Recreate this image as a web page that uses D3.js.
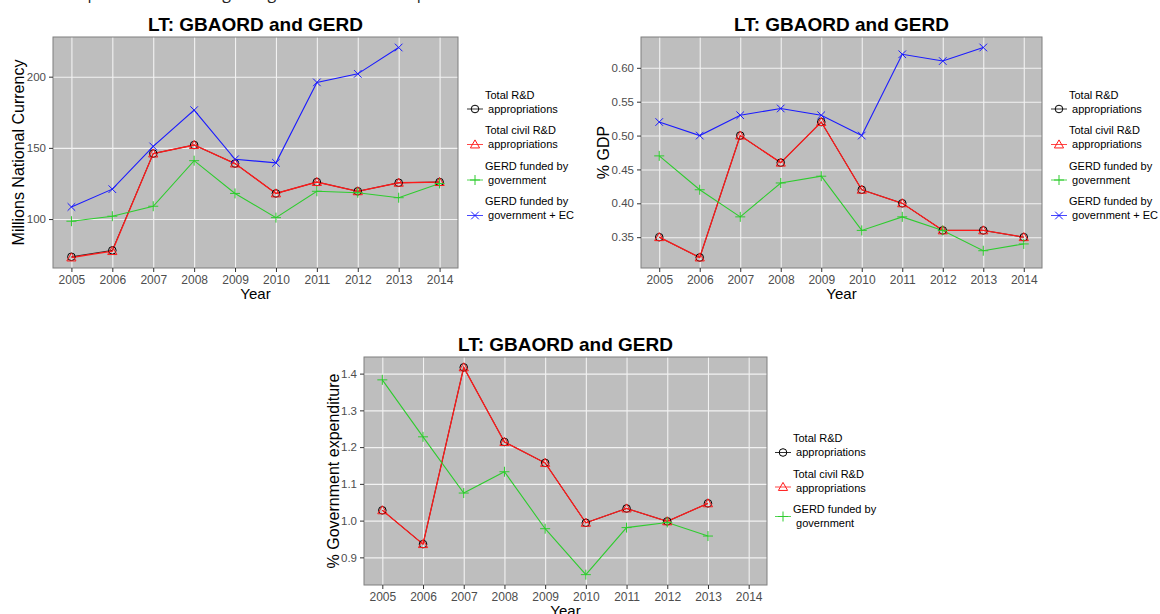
<!DOCTYPE html>
<html>
<head>
<meta charset="utf-8">
<script src="https://cdn.jsdelivr.net/npm/d3@7"></script>
<style>
body { margin: 0; background: #fff; }
svg text { font-family: "Liberation Sans", Arial, sans-serif; }
</style>
</head>
<body>
<div id="chart"></div>
<script>
// data
var years = [2005, 2006, 2007, 2008, 2009, 2010, 2011, 2012, 2013, 2014];
var seriesNames = [
  ["Total R&D", " appropriations"],
  ["Total civil R&D", " appropriations"],
  ["GERD funded by", " government"],
  ["GERD funded by", " government + EC"]
];

// millions national currency
var lcuTotal = [73.5, 78, 146, 152, 139, 118, 126, 119.5, 125.5, 126];
var lcuCivil = [73, 77.5, 146, 152, 139, 118, 126, 119.5, 125.5, 126];
var lcuGov = [98.5, 102, 109, 141, 118, 101, 119.5, 118.5, 115, 125];
var lcuGovEc = [108.5, 121, 151, 176.5, 142, 139.5, 196, 202, 220.5, null];

// % GDP
var gdpTotal = [0.35, 0.32, 0.50, 0.46, 0.52, 0.42, 0.40, 0.36, 0.36, 0.35];
var gdpCivil = [0.35, 0.32, 0.50, 0.46, 0.52, 0.42, 0.40, 0.36, 0.36, 0.35];
var gdpGov = [0.47, 0.42, 0.38, 0.43, 0.44, 0.36, 0.38, 0.36, 0.33, 0.34];
var gdpGovEc = [0.52, 0.50, 0.53, 0.54, 0.53, 0.50, 0.62, 0.61, 0.63, null];

// % government expenditure
var gexpTotal = [1.028, 0.936, 1.417, 1.214, 1.157, 0.994, 1.033, 0.998, 1.047, null];
var gexpCivil = [1.028, 0.936, 1.417, 1.214, 1.157, 0.994, 1.033, 0.998, 1.047, null];
var gexpGov = [1.383, 1.228, 1.075, 1.133, 0.978, 0.853, 0.981, 0.995, 0.958, null];

var colors = ["#000000", "#ff1a1a", "#2ecc2e", "#1a1aff"];
var lineWidths = [0.8, 1.3, 1.1, 1.1];
var shapes = ["circle", "triangle", "plus", "cross"];

var width = 1160, height = 614;

var svg = d3.select("#chart").append("svg")
  .attr("width", width)
  .attr("height", height);

// caption of the page, cut off at the top as in the screenshot
svg.append("text")
  .attr("x", 10)
  .attr("y", -1)
  .attr("textLength", 480)
  .style("font-family", "'Open Sans', sans-serif")
  .style("font-size", "16px")
  .attr("fill", "#222")
  .text("Lithuania: public R&D funding and government R&D expenditure");

function drawShape(g, shape, color, x, y) {
  if (shape == "circle") {
    g.append("circle").attr("cx", x).attr("cy", y).attr("r", 3.8)
      .attr("fill", "none").attr("stroke", color).attr("stroke-width", 1);
  } else if (shape == "triangle") {
    var s = 4.6;
    g.append("path")
      .attr("d", "M" + x + "," + (y - s) + "L" + (x + s) + "," + (y + s * 0.75) + "L" + (x - s) + "," + (y + s * 0.75) + "Z")
      .attr("fill", "none").attr("stroke", color).attr("stroke-width", 1);
  } else if (shape == "plus") {
    var p = 5;
    g.append("path")
      .attr("d", "M" + (x - p) + "," + y + "H" + (x + p) + "M" + x + "," + (y - p) + "V" + (y + p))
      .attr("fill", "none").attr("stroke", color).attr("stroke-width", 1);
  } else {
    var c = 3.8;
    g.append("path")
      .attr("d", "M" + (x - c) + "," + (y - c) + "L" + (x + c) + "," + (y + c) + "M" + (x - c) + "," + (y + c) + "L" + (x + c) + "," + (y - c))
      .attr("fill", "none").attr("stroke", color).attr("stroke-width", 1);
  }
}

function makePanel(opt) {
  var g = svg.append("g");

  var allVals = [];
  opt.series.forEach(function(s) {
    s.forEach(function(v) { if (v != null) allVals.push(v); });
  });
  var ext = d3.extent(allVals);
  var pad = (ext[1] - ext[0]) * 0.05;

  var xScale = d3.scaleLinear()
    .domain([years[0] - 0.45, years[years.length - 1] + 0.45])
    .range([opt.left, opt.right]);

  var yScale = d3.scaleLinear()
    .domain([ext[0] - pad, ext[1] + pad])
    .range([opt.bottom, opt.top]);

  // panel background
  g.append("rect")
    .attr("x", opt.left)
    .attr("y", opt.top)
    .attr("width", opt.right - opt.left)
    .attr("height", opt.bottom - opt.top)
    .attr("fill", "#bebebe");

  // gridlines
  g.append("g")
    .attr("transform", "translate(0," + opt.bottom + ")")
    .call(d3.axisBottom(xScale).tickValues(years).tickSize(-(opt.bottom - opt.top)).tickFormat(""))
    .call(function(a) {
      a.select(".domain").remove();
      a.selectAll("line").attr("stroke", "#f2f2f2").attr("stroke-width", 1.1);
    });

  g.append("g")
    .attr("transform", "translate(" + opt.left + ",0)")
    .call(d3.axisLeft(yScale).tickValues(opt.yTicks).tickSize(-(opt.right - opt.left)).tickFormat(""))
    .call(function(a) {
      a.select(".domain").remove();
      a.selectAll("line").attr("stroke", "#f2f2f2").attr("stroke-width", 1.1);
    });

  // panel border
  g.append("rect")
    .attr("x", opt.left)
    .attr("y", opt.top)
    .attr("width", opt.right - opt.left)
    .attr("height", opt.bottom - opt.top)
    .attr("fill", "none")
    .attr("stroke", "#7f7f7f")
    .attr("stroke-width", 1);

  // axes
  g.append("g")
    .attr("transform", "translate(0," + opt.bottom + ")")
    .call(d3.axisBottom(xScale).tickValues(years).tickSize(4).tickPadding(3).tickFormat(d3.format("d")))
    .call(function(a) {
      a.select(".domain").remove();
      a.selectAll("line").attr("stroke", "#333");
      a.selectAll("text").attr("fill", "#4d4d4d").style("font-size", "12px")
        .style("font-family", "'Liberation Sans', Arial, sans-serif");
    });

  g.append("g")
    .attr("transform", "translate(" + opt.left + ",0)")
    .call(d3.axisLeft(yScale).tickValues(opt.yTicks).tickSize(4).tickPadding(3).tickFormat(d3.format(opt.yFormat)))
    .call(function(a) {
      a.select(".domain").remove();
      a.selectAll("line").attr("stroke", "#333");
      a.selectAll("text").attr("fill", "#4d4d4d").style("font-size", "11.5px")
        .style("font-family", "'Liberation Sans', Arial, sans-serif");
    });

  // title
  g.append("text")
    .attr("x", (opt.left + opt.right) / 2)
    .attr("y", opt.top - 6)
    .attr("text-anchor", "middle")
    .style("font-size", "19px")
    .style("font-weight", "bold")
    .text("LT: GBAORD and GERD");

  g.append("text")
    .attr("x", (opt.left + opt.right) / 2)
    .attr("y", opt.bottom + 31)
    .attr("text-anchor", "middle")
    .style("font-size", "15px")
    .text("Year");

  g.append("text")
    .attr("transform", "translate(" + opt.ylabX + "," + (opt.top + opt.bottom) / 2 + ") rotate(-90)")
    .attr("text-anchor", "middle")
    .style("font-size", "16px")
    .text(opt.ylab);

  var line = d3.line()
    .defined(function(d) { return d.v != null; })
    .x(function(d) { return xScale(d.year); })
    .y(function(d) { return yScale(d.v); });

  opt.series.forEach(function(s, i) {
    var pts = years.map(function(y, j) { return { year: y, v: s[j] }; });
    g.append("path")
      .attr("d", line(pts))
      .attr("fill", "none")
      .attr("stroke", colors[i])
      .attr("stroke-width", lineWidths[i]);
  });

  opt.series.forEach(function(s, i) {
    years.forEach(function(y, j) {
      if (s[j] != null) drawShape(g, shapes[i], colors[i], xScale(y), yScale(s[j]));
    });
  });

  // legend
  opt.series.forEach(function(s, i) {
    var ly = opt.legendY + i * 35.5;
    var ky = ly + opt.keyDy[i];
    g.append("line")
      .attr("x1", opt.legendX - 8).attr("x2", opt.legendX + 8)
      .attr("y1", ky).attr("y2", ky)
      .attr("stroke", colors[i]).attr("stroke-width", 1).attr("opacity", 0.8);
    drawShape(g, shapes[i], colors[i], opt.legendX, ky);
    seriesNames[i].forEach(function(t, k) {
      g.append("text")
        .attr("x", opt.legendX + 10)
        .attr("y", ly + k * 14)
        .attr("dy", "0.35em")
        .style("font-size", "11px")
        .style("white-space", "pre")
        .attr("xml:space", "preserve")
        .text(t);
    });
  });
}

makePanel({
  left: 53, right: 458, top: 37, bottom: 268,
  series: [lcuTotal, lcuCivil, lcuGov, lcuGovEc],
  yTicks: [100, 150, 200], yFormat: "d",
  ylab: "Millions National Currency", ylabX: 24,
  legendX: 475, legendY: 95, keyDy: [14, 14, 14, 14]
});

makePanel({
  left: 641, right: 1042, top: 37, bottom: 268,
  series: [gdpTotal, gdpCivil, gdpGov, gdpGovEc],
  yTicks: [0.35, 0.40, 0.45, 0.50, 0.55, 0.60], yFormat: ".2f",
  ylab: "% GDP", ylabX: 609,
  legendX: 1059, legendY: 95, keyDy: [14, 14, 14, 14]
});

makePanel({
  left: 364, right: 767, top: 357, bottom: 585,
  series: [gexpTotal, gexpCivil, gexpGov],
  yTicks: [0.9, 1.0, 1.1, 1.2, 1.3, 1.4], yFormat: ".1f",
  ylab: "% Government expenditure", ylabX: 339,
  legendX: 783, legendY: 438.5, keyDy: [14, 13, 7]
});
</script>
</body>
</html>
